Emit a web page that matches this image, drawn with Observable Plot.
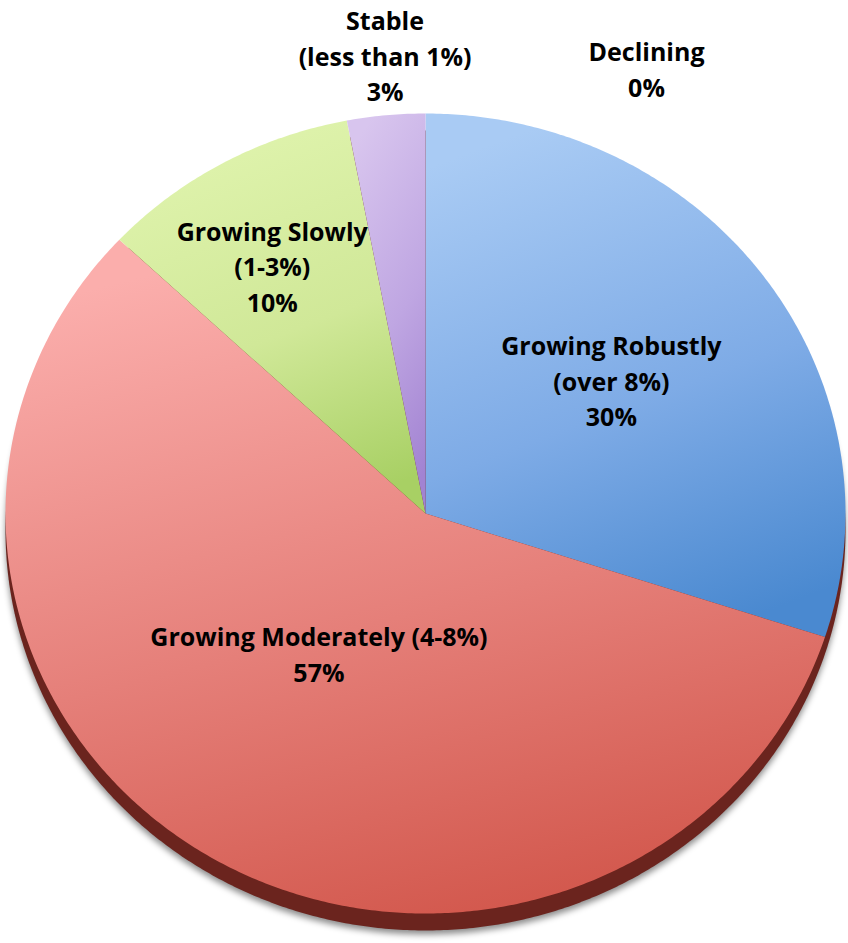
<!DOCTYPE html>
<html><head><meta charset="utf-8">
<script src="https://cdn.jsdelivr.net/npm/d3@7"></script>
<script src="https://cdn.jsdelivr.net/npm/@observablehq/plot@0.6"></script>
<style>body{margin:0;background:#fff}</style>
</head><body><div id="chart"></div>
<script>
// ---- data ----
const categories = ["Growing Robustly (over 8%)", "Growing Moderately (4-8%)", "Growing Slowly (1-3%)", "Stable (less than 1%)", "Declining"];
const labelNames = ["Growing Robustly\n(over 8%)", "Growing Moderately (4-8%)", "Growing Slowly\n(1-3%)", "Stable\n(less than 1%)", "Declining"];
const shares = [30, 57, 10, 3, 0];
const colorTop = ["#a9cbf4", "#fbaeac", "#e0f4ae", "#d8c5ee", "#c8c8c8"];
const colorMid = ["#7eabe6", "#e57f79", "#d0e898", "#bfa6e2", "#b0b0b0"];
const colorBottom = ["#4a89d0", "#d2574c", "#a8d064", "#a283d2", "#909090"];

// ---- layout (label placement) ----
const labelRadius = [0.55, 0.55, 0.55, 1.15, 1.15];
const labelNudge = [[-1, -5], [11, -50], [-42, -56], [5, -1], [221, 14]];

const total = d3.sum(shares);
let acc = 0;
const slices = shares.map((v, i) => {
  const a0 = acc / total * 2 * Math.PI;
  acc += v;
  const a1 = acc / total * 2 * Math.PI;
  return {i, name: categories[i], value: v, a0, a1};
});

function arcPoints(s) {
  const pts = [{x: 0, y: 0}];
  const n = Math.max(2, Math.ceil((s.a1 - s.a0) / (Math.PI / 360)));
  for (let k = 0; k <= n; k++) {
    const a = s.a0 + (s.a1 - s.a0) * k / n;
    pts.push({x: Math.sin(a), y: Math.cos(a)});
  }
  return pts;
}
const whole = arcPoints({a0: 0, a1: 2 * Math.PI}).slice(1);

const labels = slices.map(s => {
  const m = (s.a0 + s.a1) / 2;
  const r = labelRadius[s.i];
  return {x: r * Math.sin(m), y: r * Math.cos(m), text: labelNames[s.i] + "\n" + s.value + "%", dx: labelNudge[s.i][0], dy: labelNudge[s.i][1]};
});

const font = "'Open Sans', Lato, sans-serif";

const svg = Plot.plot({
  width: 848, height: 943,
  margin: 0,
  x: {domain: [-1, 1], range: [5, 845], axis: null},
  y: {domain: [-1, 1], range: [913, 113], axis: null},
  marks: [
    Plot.line(whole, {x: "x", y: "y", fill: "#000", fillOpacity: 0.45, stroke: "none", dy: 21}),
    Plot.line(whole, {x: "x", y: "y", fill: "#6b241e", stroke: "none", dy: 17}),
    ...slices.filter(s => s.value > 0).map(s =>
      Plot.line(arcPoints(s), {x: "x", y: "y", fill: `url(#grad${s.i})`, stroke: "none"})
    ),
    ...labels.map(l => Plot.text([l], {x: "x", y: "y", text: "text", dx: l.dx, dy: l.dy,
      fontSize: 25, fontWeight: "bold", fontFamily: font, lineHeight: 1.42, fill: "#000"}))
  ]
});

const defs = d3.select(svg).insert("defs", ":first-child");
const f = defs.append("filter").attr("id", "blur").attr("x", "-10%").attr("y", "-10%").attr("width", "120%").attr("height", "120%");
f.append("feGaussianBlur").attr("stdDeviation", 3);
slices.forEach(s => {
  const g = defs.append("linearGradient").attr("id", `grad${s.i}`)
    .attr("x1", 0.35).attr("y1", 0).attr("x2", 0.65).attr("y2", 1);
  g.append("stop").attr("offset", 0).attr("stop-color", colorTop[s.i]);
  g.append("stop").attr("offset", 0.55).attr("stop-color", colorMid[s.i]);
  g.append("stop").attr("offset", 1).attr("stop-color", colorBottom[s.i]);
});
const lineGroups = svg.querySelectorAll('g[aria-label="line"]');
if (lineGroups.length) lineGroups[0].setAttribute("filter", "url(#blur)");

document.getElementById("chart").appendChild(svg);
</script>
</body></html>
